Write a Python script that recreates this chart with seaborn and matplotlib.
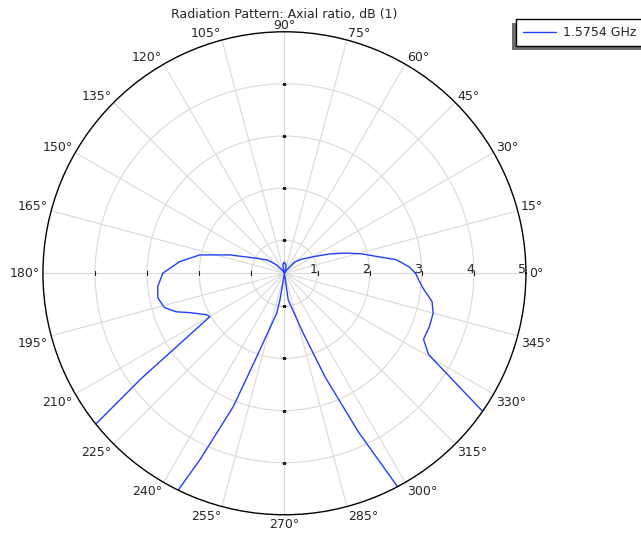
import numpy as np
import matplotlib
matplotlib.use("Agg")
import matplotlib.pyplot as plt
from matplotlib.patches import Rectangle
import seaborn as sns

# angle (deg) and axial ratio (dB)
theta_deg = [0, 3, 7, 9.5, 14, 18, 23, 30, 40, 48, 56, 63, 70, 78, 90,
             100, 108, 115, 122, 133, 142, 151.6, 161.4, 167.8, 173.7, 180,
             186, 191, 196, 199.6, 202.6, 208, 210.2, 216.3, 218.7, 222, 230,
             238, 243.8, 245.6, 249, 251.6, 259, 260.4, 270, 278.1, 287.4,
             291.4, 295, 298, 302, 312, 320, 325, 330.6, 334.6, 339.8, 344.9,
             349.1, 354.4, 360]
axial_ratio_db = [2.88, 2.76, 2.52, 2.24, 1.90, 1.62, 1.32, 1.00, 0.78, 0.66,
                  0.44, 0.37, 0.40, 0.52, 0.58, 0.54, 0.42, 0.37, 0.42, 0.585,
                  0.78, 0.97, 1.47, 2.03, 2.39, 2.70, 2.81, 2.84, 2.76, 2.57,
                  2.33, 2.06, 2.02, 3.77, 5.05, 6.5, 7.0, 6.5, 5.05, 4.30, 3.11,
                  2.06, 1.15, 0.886, 0.37, 0.884, 1.575, 2.50, 3.73, 5.05, 6.5,
                  7.5, 6.5, 5.05, 3.54, 3.32, 3.33, 3.32, 3.25, 3.02, 2.88]
series_label = "1.5754 GHz"
r_ticks = [1, 2, 3, 4, 5]
theta_ticks = list(range(0, 360, 15))
title = "Radiation Pattern: Axial ratio, dB (1)"

sns.set_style("white")
plt.rcParams['font.family'] = ['DejaVu Sans']
fs = 9

fig = plt.figure(figsize=(6.41, 5.34), dpi=100)
ax = fig.add_axes([0.067, 0.036, 0.7535, 0.9045], projection='polar')

line_color = '#1f3fff'
sns.lineplot(x=np.deg2rad(theta_deg), y=axial_ratio_db, sort=False,
             estimator=None, color=line_color, linewidth=1, ax=ax, legend=False)
line = ax.lines[0]
line.set_label(series_label)

r_min, r_max = 0.365, 5
ax.set_ylim(r_min, r_max)
ax.set_thetagrids(theta_ticks, labels=[''] * len(theta_ticks))
ax.set_rgrids(r_ticks[:-1])
ax.set_yticklabels([])
ax.grid(True, color='#d9d9d9', linewidth=0.8)
ax.spines['polar'].set_color('black')
ax.spines['polar'].set_linewidth(1)

# angle labels hugging the outer circle
for t in theta_ticks:
    c, s = np.cos(np.deg2rad(t)), np.sin(np.deg2rad(t))
    ha = 'left' if c > 0.01 else ('right' if c < -0.01 else 'center')
    va = 'baseline' if s > 0.01 else ('top' if s < -0.01 else 'center')
    ax.text(np.deg2rad(t), r_max + 0.06, f"{t}°", ha=ha, va=va, fontsize=fs)

# small tick marks along the main axes
for ang, mk in [(0, '|'), (90, '_'), (180, '|'), (270, '_')]:
    ax.plot(np.deg2rad([ang] * 4), r_ticks[:-1], linestyle='none', marker=mk,
            markersize=3, markeredgewidth=0.8, color='#222222')

# radial labels on the 0 deg axis
for r in r_ticks:
    ax.text(0, r, str(r), ha='right', va='baseline', fontsize=fs)

fig.text(0.444, 1 - 18.3 / 534, title, ha='center', va='baseline', fontsize=fs)

leg = fig.legend(handles=[line], labels=[series_label], loc='upper left',
                 bbox_to_anchor=(515.7 / 641, 1 - 19.3 / 534), borderaxespad=0,
                 frameon=True, fancybox=False, edgecolor='black', framealpha=1,
                 fontsize=fs, handlelength=2.7, handletextpad=0.55,
                 borderpad=0.55)
leg.get_frame().set_linewidth(1)

# shadow offset to the lower left, like the reference
fig.canvas.draw()
bb = leg.get_window_extent()
inv = fig.transFigure.inverted()
x0, y0 = inv.transform((bb.x0 - 4, bb.y0 - 4))
x1, y1 = inv.transform((bb.x1 + 6, bb.y1 - 4))
shadow = Rectangle((x0, y0), x1 - x0, y1 - y0, transform=fig.transFigure,
                   facecolor='#6e6e6e', edgecolor='none', zorder=4)
fig.add_artist(shadow)
leg.set_zorder(5)

fig.savefig("out.png", dpi=100)
plt.close(fig)
